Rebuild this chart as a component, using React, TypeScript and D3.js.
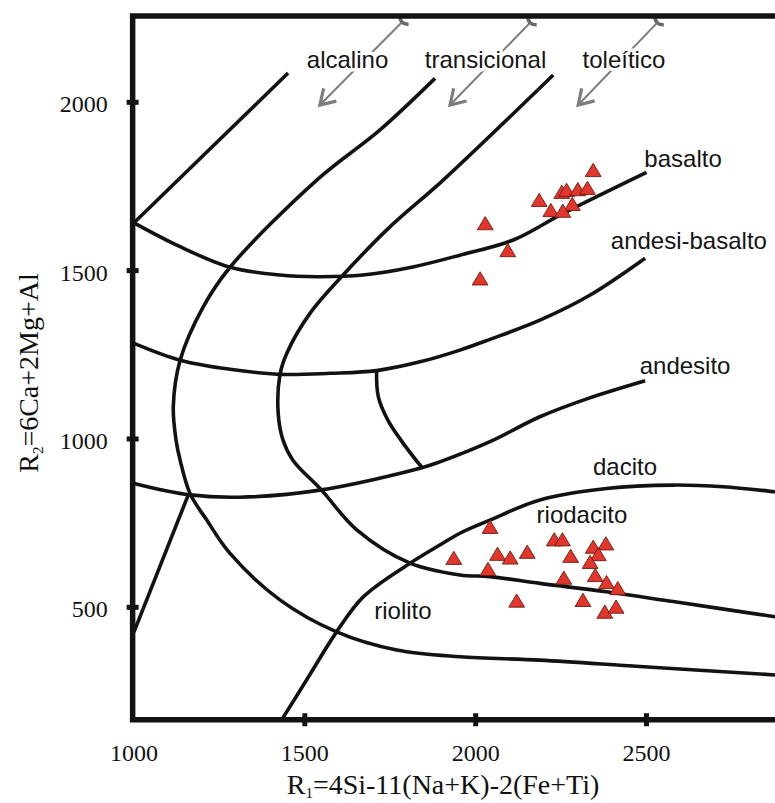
import React from 'react';
import * as d3 from 'd3';

// ---------- data (diagram units: R1 on x, R2 on y) ----------
const xTicks = [1000, 1500, 2000, 2500];
const yTicks = [500, 1000, 1500, 2000];
const xTickMarks = [1500, 2000, 2500];

const alcalinoLine: [number, number][] = [[1000, 1642], [1451, 2087]];
const basaltoCurve: [number, number][] = [
  [1000, 1642], [1135, 1571], [1281, 1510], [1427, 1487], [1535, 1482], [1670, 1487],
  [1816, 1511], [1954, 1546], [2110, 1591], [2256, 1670], [2500, 1792],
];
const andesiBasaltoCurve: [number, number][] = [
  [1000, 1284], [1135, 1234], [1281, 1207], [1427, 1192], [1574, 1195], [1710, 1203],
  [1837, 1229], [1954, 1264], [2042, 1296], [2188, 1353], [2334, 1427], [2496, 1537],
];
const andesitoCurve: [number, number][] = [
  [1000, 868], [1164, 834], [1310, 827], [1544, 848], [1837, 913], [1895, 932],
  [2042, 992], [2188, 1066], [2334, 1122], [2496, 1173],
];
const innerArc: [number, number][] = [
  [1710, 1203], [1715, 1126], [1743, 1056], [1788, 987], [1842, 916],
];
const alkTransBoundary: [number, number][] = [
  [1881, 2071], [1720, 1918], [1535, 1769], [1281, 1510], [1203, 1393], [1135, 1234],
  [1115, 1096], [1123, 997], [1135, 937], [1164, 838], [1213, 759], [1281, 660],
  [1427, 522], [1593, 427], [1769, 373], [1954, 353], [2188, 343], [2481, 324],
  [2876, 299], [2950, 294],
];
const transTholBoundary: [number, number][] = [
  [2227, 2081], [1905, 1769], [1749, 1630], [1612, 1487], [1515, 1373], [1447, 1254],
  [1427, 1190], [1422, 1076], [1436, 997], [1465, 937], [1549, 848], [1652, 730],
  [1808, 631], [1954, 596], [2042, 591], [2188, 571], [2383, 546], [2578, 517],
  [2876, 472], [2950, 461],
];
const riolitoCurve: [number, number][] = [
  [1433, 167], [1505, 284], [1593, 427], [1671, 531], [1808, 631], [1895, 685],
  [1954, 720], [2042, 759], [2188, 819], [2383, 853], [2578, 863], [2724, 858],
  [2876, 843], [2950, 834],
];
const leftLine: [number, number][] = [[1000, 427], [1160, 837]];

const boundaries = [
  alcalinoLine, basaltoCurve, andesiBasaltoCurve, andesitoCurve, innerArc,
  alkTransBoundary, transTholBoundary, riolitoCurve, leftLine,
];

// samples: basalt group and rhyodacite group
const basaltR1 = [2344, 2252, 2266, 2299, 2327, 2186, 2283, 2220, 2255, 2028, 2094, 2013];
const basaltR2 = [1799, 1734, 1740, 1742, 1746, 1710, 1698, 1680, 1678, 1641, 1561, 1477];
const rhyoR1 = [2042, 1936, 2064, 2101, 2151, 2036, 2120, 2230, 2254, 2278, 2258, 2344, 2381, 2359, 2335, 2350, 2383, 2416, 2314, 2378, 2411];
const rhyoR2 = [739, 647, 659, 648, 665, 614, 520, 702, 702, 653, 588, 680, 690, 658, 635, 596, 575, 557, 522, 487, 502];

// field labels
const fieldNames = ['basalto', 'andesi-basalto', 'andesito', 'dacito', 'riodacito', 'riolito'];
const fieldR1 = [2607, 2624, 2613, 2437, 2311, 1787];
const fieldR2 = [1808, 1564, 1193, 893, 751, 465];

// series arrows
const seriesNames = ['alcalino', 'transicional', 'toleítico'];
const seriesLabelR1 = [1625, 2029, 2434];
const seriesLabelR2 = [2102, 2102, 2102];
const arrowTailR1 = [1784, 2159, 2531];
const arrowTailR2 = [2238, 2236, 2236];
const arrowTipR1 = [1544, 1925, 2300];
const arrowTipR2 = [1992, 1992, 1992];

// frame extent
const X_MIN = 996, X_MAX = 3000, Y_MIN = 166, Y_MAX = 2256;

const W = 775, H = 803;
const SERIF = '"Liberation Serif", "Times New Roman", serif';
const SANS = '"Liberation Sans", Arial, sans-serif';

export default function App() {
  const x = d3.scaleLinear().domain([1000, 2500]).range([134, 646.5]);
  const y = d3.scaleLinear().domain([500, 2000]).range([607.3, 102.3]);
  const line = d3
    .line<[number, number]>()
    .x((d) => x(d[0]))
    .y((d) => y(d[1]))
    .curve(d3.curveCatmullRom.alpha(0.5));

  const fx0 = x(X_MIN), fx1 = x(X_MAX), fy0 = y(Y_MIN), fy1 = y(Y_MAX);

  const tri = (cx: number, cy: number) =>
    `M${cx},${cy - 6.6}L${cx + 7.9},${cy + 6.6}L${cx - 7.9},${cy + 6.6}Z`;

  const rot = (v: [number, number], deg: number): [number, number] => {
    const a = (deg * Math.PI) / 180;
    return [v[0] * Math.cos(a) - v[1] * Math.sin(a), v[0] * Math.sin(a) + v[1] * Math.cos(a)];
  };

  const arrows = seriesNames.map((_, i) => {
    const tx = x(arrowTailR1[i]), ty = y(arrowTailR2[i]);
    const px = x(arrowTipR1[i]), py = y(arrowTipR2[i]);
    const len = Math.hypot(tx - px, ty - py);
    const u: [number, number] = [(tx - px) / len, (ty - py) / len];
    const b1 = rot(u, 32), b2 = rot(u, -32);
    const c1 = rot(u, 62), c2 = rot(u, -62);
    return (
      <g key={'arr' + i}>
        <line x1={tx} y1={ty} x2={px} y2={py} stroke="#7d7d7d" strokeWidth={2} />
        <path
          d={`M${px + b1[0] * 17},${py + b1[1] * 17}L${px},${py}L${px + b2[0] * 17},${py + b2[1] * 17}`}
          fill="none" stroke="#7d7d7d" strokeWidth={3.2} strokeLinejoin="miter"
        />
        <path
          d={`M${tx + c1[0] * 7},${ty + c1[1] * 7}Q${tx - u[0] * 3},${ty - u[1] * 3} ${tx + c2[0] * 7},${ty + c2[1] * 7}`}
          fill="none" stroke="#6a6a6a" strokeWidth={3.6}
        />
      </g>
    );
  });

  return (
    <svg
      width={W}
      height={H}
      style={{ position: 'absolute', left: 0, top: 0, display: 'block', background: '#fff' }}
    >
      <rect x={0} y={0} width={W} height={H} fill="#fff" />

      {/* boundary curves */}
      {boundaries.map((b, i) => (
        <path key={'b' + i} d={line(b) || ''} fill="none" stroke="#121212" strokeWidth={3.6} />
      ))}

      {/* arrows */}
      {arrows}

      {/* frame */}
      <path
        d={`M${fx1},${fy1}L${fx0},${fy1}L${fx0},${fy0}L${fx1},${fy0}`}
        fill="none" stroke="#121212" strokeWidth={5.5} strokeLinejoin="miter"
      />
      {yTicks.map((t) => (
        <line key={'yt' + t} x1={fx0 - 6} x2={fx0 + 6} y1={y(t)} y2={y(t)} stroke="#121212" strokeWidth={5} />
      ))}
      {xTickMarks.map((t) => (
        <line key={'xt' + t} x1={x(t)} x2={x(t)} y1={fy0 - 6.5} y2={fy0 + 6.5} stroke="#121212" strokeWidth={5} />
      ))}

      {/* tick labels */}
      {yTicks.map((t) => (
        <text key={'yl' + t} x={fx0 - 25} y={y(t) + 10} textAnchor="end" fontFamily={SERIF} fontSize={24} fill="#111">
          {t}
        </text>
      ))}
      {xTicks.map((t) => (
        <text key={'xl' + t} x={x(t)} y={761} textAnchor="middle" fontFamily={SERIF} fontSize={24} fill="#111">
          {t}
        </text>
      ))}

      {/* axis titles */}
      <text x={443} y={794} textAnchor="middle" fontFamily={SERIF} fontSize={28} fill="#111">
        R<tspan fontSize={15} dy={4}>1</tspan>
        <tspan dy={-4}>=4Si-11(Na+K)-2(Fe+Ti)</tspan>
      </text>
      <text
        transform="translate(38,373) rotate(-90)"
        textAnchor="middle" fontFamily={SERIF} fontSize={28} fill="#111"
      >
        R<tspan fontSize={15} dy={5}>2</tspan>
        <tspan dy={-5}>=6Ca+2Mg+Al</tspan>
      </text>

      {/* series labels */}
      {seriesNames.map((s, i) => (
        <text
          key={'s' + i}
          x={x(seriesLabelR1[i])} y={y(seriesLabelR2[i])}
          textAnchor="middle" fontFamily={SANS} fontSize={24} fill="#141414"
          stroke="#fff" strokeWidth={7} paintOrder="stroke" strokeLinejoin="round"
        >
          {s}
        </text>
      ))}

      {/* field labels */}
      {fieldNames.map((s, i) => (
        <text
          key={'f' + i}
          x={x(fieldR1[i])} y={y(fieldR2[i])}
          textAnchor="middle" fontFamily={SANS} fontSize={24} fill="#141414"
        >
          {s}
        </text>
      ))}

      {/* samples */}
      {basaltR1.map((v, i) => (
        <path key={'ba' + i} d={tri(x(v), y(basaltR2[i]))} fill="#e2352b" stroke="#6b1e14" strokeWidth={0.9} />
      ))}
      {rhyoR1.map((v, i) => (
        <path key={'rh' + i} d={tri(x(v), y(rhyoR2[i]))} fill="#e2352b" stroke="#6b1e14" strokeWidth={0.9} />
      ))}
    </svg>
  );
}
